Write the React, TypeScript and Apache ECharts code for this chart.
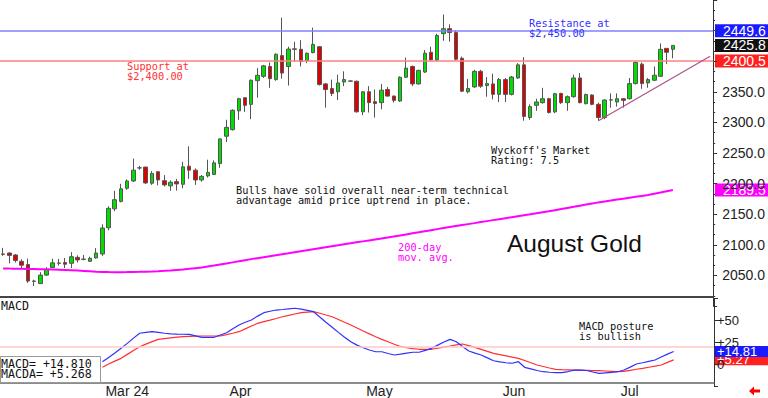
import React, { useEffect, useRef } from "react";
import * as echarts from "echarts";

// ---------- data ----------
const START_DATE = "2024-02-07";
const HOLIDAYS = ["2024-02-19", "2024-03-29", "2024-05-27", "2024-06-19", "2024-07-04"];
const TOTAL_SLOTS = 115; // trading days on the axis (incl. empty future slots)

const tickDates = ["2024-03-01", "2024-04-01", "2024-05-01", "2024-06-03", "2024-07-01"];
const tickLabels = ["Mar 24", "Apr", "May", "Jun", "Jul"];

// [open, high, low, close]
const ohlc: number[][] = [
  [2085, 2095, 2082, 2084.5], [2086.6, 2087.6, 2069.8, 2082.7], [2083.4, 2085, 2071, 2074.2], [2073, 2076.3, 2060.8, 2066.6],
  [2067.7, 2077.4, 2037.6, 2040.8], [2040.8, 2043, 2032.7, 2040.3], [2036.6, 2055.3, 2036, 2050.5], [2050.5, 2063.4, 2048.9, 2059.7],
  [2062.9, 2077.4, 2062.4, 2070.5], [2070.2, 2077, 2066, 2069.8], [2071, 2078.5, 2062, 2068.3], [2069.8, 2088, 2062, 2080.6],
  [2079.5, 2082.7, 2071, 2075.3], [2076.6, 2083.4, 2074.7, 2076.3], [2073, 2080.6, 2072, 2077.9], [2078.5, 2094.6, 2077.4, 2086.6],
  [2085, 2133.4, 2082, 2127.4], [2127.9, 2162.9, 2123.7, 2159.6], [2158.8, 2188.2, 2154.8, 2173.7], [2170.9, 2199.5, 2169.3, 2191.4],
  [2192.4, 2206.9, 2189.8, 2204.3], [2204.3, 2240.8, 2202.7, 2222], [2225.5, 2229, 2222.6, 2225.8], [2227, 2227.5, 2199.5, 2201.1],
  [2200.6, 2220.4, 2197.9, 2216.6], [2219.4, 2219.8, 2197.3, 2206], [2204.8, 2214, 2195.2, 2197.9], [2196.3, 2205.3, 2188.2, 2202.1],
  [2203.2, 2207.6, 2188.7, 2199.5], [2198.9, 2235.5, 2192.4, 2227.4], [2228.5, 2261, 2207.6, 2222], [2222, 2224.7, 2197.9, 2206],
  [2206, 2214, 2203.2, 2211.8], [2212.6, 2239, 2210, 2218.3], [2215, 2238, 2214, 2233.9], [2232.7, 2274, 2225.8, 2273],
  [2277.4, 2304.3, 2267.7, 2291.9], [2288.2, 2321.5, 2286.6, 2319.8], [2318.9, 2340.3, 2304.3, 2338.7], [2340.3, 2341, 2317.3, 2327.9],
  [2329.5, 2369.9, 2305.3, 2368.9], [2368.2, 2388.7, 2340.3, 2377], [2375.3, 2394, 2372.6, 2392.4], [2391.4, 2397.9, 2356.5, 2371.5],
  [2369.9, 2412.9, 2368, 2411.3], [2409.2, 2471, 2371.5, 2380.6], [2391.4, 2423.7, 2360.2, 2419.8], [2419.4, 2431.8, 2399.5, 2420.2],
  [2419.4, 2434.4, 2391.4, 2399.5], [2401.1, 2414, 2396.8, 2413], [2414, 2454.8, 2412.9, 2427.4], [2423.7, 2424.5, 2360.2, 2361.8],
  [2362.9, 2364.5, 2324.2, 2353.7], [2355.3, 2369.9, 2343, 2347.3], [2350, 2378, 2336.6, 2364.5], [2366.1, 2383.4, 2359.2, 2369.9],
  [2367.8, 2368.5, 2366.5, 2367.3], [2367.3, 2368, 2316, 2317.3], [2317.3, 2351, 2311.8, 2350], [2350, 2359.2, 2316.1, 2332.3],
  [2333.9, 2353.8, 2308, 2331], [2332.3, 2362.9, 2321.5, 2352.7], [2353.8, 2358, 2341.9, 2343], [2343, 2344, 2332.3, 2336],
  [2335, 2375.3, 2333.4, 2373.7], [2373.7, 2406, 2372.6, 2388.7], [2391.4, 2393, 2359.2, 2362.9], [2362.9, 2386, 2361.8, 2385],
  [2382.3, 2418.2, 2380.6, 2413], [2414.5, 2423.7, 2401.1, 2402.1], [2402.1, 2445, 2399.5, 2442], [2445, 2476.3, 2433.4, 2453.2],
  [2453.2, 2460.2, 2431.8, 2446.8], [2446.8, 2450.5, 2401.1, 2403.2], [2404.8, 2407.6, 2349.5, 2351], [2350, 2371, 2347.3, 2355.3],
  [2358, 2386, 2356.5, 2383.4], [2383.4, 2386, 2356.5, 2359.2], [2360.2, 2374.2, 2341.9, 2363.4], [2362.9, 2379.5, 2337.6, 2345.8],
  [2345.8, 2372.6, 2333.4, 2369.9], [2369.9, 2372.6, 2333.4, 2345.8], [2345.8, 2376, 2344, 2374.2], [2372.6, 2396.8, 2371, 2394],
  [2394, 2406.5, 2302.7, 2309.7], [2308, 2329.5, 2304.3, 2325.8], [2327.9, 2338.7, 2318.9, 2333.4], [2332.3, 2356.5, 2330.6, 2338.7],
  [2338.7, 2340.3, 2314.5, 2316.1], [2317.3, 2348.4, 2315, 2346.8], [2347.3, 2348.4, 2330, 2332.3], [2332.3, 2344, 2318.9, 2342],
  [2342, 2378, 2340.3, 2372.6], [2372.6, 2380.6, 2331, 2332.3], [2330.6, 2347, 2329.5, 2345.6], [2344.7, 2346, 2327.9, 2329.5],
  [2329.5, 2332.3, 2302.7, 2308], [2308, 2337.6, 2305.3, 2336.6], [2336.9, 2347.3, 2324.2, 2336.6], [2333.4, 2347.3, 2325.8, 2338.7],
  [2338.7, 2339.5, 2324.2, 2336], [2338.7, 2372.6, 2337.6, 2363.4], [2363.4, 2399.5, 2362, 2397.9], [2395.2, 2397.9, 2354.8, 2363.4],
  [2364.5, 2372.6, 2356.5, 2369.9], [2368.9, 2391.4, 2367.3, 2377], [2375.3, 2429, 2374.2, 2419.4], [2421, 2421.5, 2395.6, 2414.5],
  [2419.4, 2426.5, 2404.8, 2425.8],
];

const ma200: number[] = [
  2061.3, 2061.1, 2061, 2060.8, 2060.6, 2060.4, 2060.2, 2060, 2059.7, 2059.3, 2058.9, 2058.4, 2057.9, 2057.3, 2056.7, 2056.1,
  2055.6, 2055.4, 2055.3, 2055.3, 2055.4, 2055.6, 2055.8, 2056.1, 2056.4, 2056.9, 2057.5, 2058.2, 2059, 2059.8, 2060.7, 2061.8,
  2062.9, 2064.5, 2066.1, 2067.8, 2069.5, 2071.3, 2073, 2074.8, 2076.6, 2078.2, 2079.8, 2081.4, 2083, 2084.6, 2086.2, 2087.9,
  2089.5, 2091.1, 2092.7, 2094.3, 2095.9, 2097.5, 2099.1, 2100.8, 2102.4, 2104, 2105.6, 2107.2, 2108.8, 2110.4, 2112, 2113.7,
  2115.3, 2117, 2118.7, 2120.4, 2122.2, 2123.9, 2125.6, 2127.3, 2129, 2130.6, 2132.2, 2133.8, 2135.4, 2137.1, 2138.7, 2140.3,
  2141.9, 2143.5, 2145.1, 2146.7, 2148.3, 2149.9, 2151.6, 2153.2, 2154.8, 2156.6, 2158.4, 2160.2, 2162, 2163.9, 2165.7, 2167.5,
  2169.3, 2170.8, 2172.3, 2173.9, 2175.4, 2176.9, 2178.4, 2179.9, 2181.4, 2183.4, 2185.4, 2187.5, 2189.5,
];

const MACD_START = 16;
const macd: number[] = [
  3, 8, 13, 18.4, 24, 30, 35.5, 36.5, 37.3, 36.5, 35.5, 34.7, 34.5, 34.4, 34.3, 32.5,
  30.9, 30.8, 30.9, 33.5, 36.1, 40.5, 44.9, 48, 50.6, 55, 58.9, 60.5, 61.9, 62.5, 63.2, 63.9,
  63, 61.5, 60, 54, 48, 42.3, 36.5, 31, 25.9, 22, 19, 16.5, 14.5, 14.5, 12.5, 10.8,
  11.8, 13, 13.9, 13.9, 16, 18.4, 22, 25.5, 28.6, 25.9, 20.5, 15.3, 13, 10.8, 7.5, 4.3,
  3, 2, 1.4, 3.2, -3.2, -5, -6.8, -8.2, -8.8, -9.2, -9.3, -8, -6.3, -6.5, -6.8, -8.5,
  -10, -9.5, -9, -8.2, -6.3, -3, 0.6, 2, 3.6, 5.1, 8.5, 11.8, 14.81,
];
const macdAvg: number[] = [
  -3.2, 0.5, 3.8, 7, 11.5, 16, 20.2, 23.2, 26, 28.6, 29.5, 30.3, 31, 31.6, 31.9, 32.2,
  32.4, 32.4, 32.4, 32.4, 33.9, 35.5, 37.3, 40.5, 43.7, 46.8, 48.8, 50.5, 52.3, 54.3, 55.8, 57.4,
  58.9, 59.5, 60, 58.2, 56.2, 54.3, 51.2, 48, 44.9, 41.5, 38, 34.8, 31.6, 28.5, 25.9, 23,
  20.5, 19, 18, 17.3, 17.3, 17.3, 18.5, 19.8, 21, 22.3, 23.3, 21.5, 19.5, 17.2, 14.9, 12.7,
  11.2, 9.8, 8.3, 7, 4.5, 2, -0.6, -2.3, -4, -5.5, -5.8, -6, -6.3, -6.5, -6.7, -6.9,
  -7, -7.4, -7.8, -8.2, -7.8, -6.6, -5.4, -4.3, -3.1, -1.9, -0.6, 2.4, 5.268,
];

const SUPPORT = 2400.5;
const RESISTANCE = 2449.6;
const MACD_REF = 20;
const TREND_START = { idx: 96, value: 2302.7 };
const TREND_END = { idx: 114, value: 2408 };

// ---------- helpers ----------
function buildTradingDays(start: string, count: number, holidays: string[]): string[] {
  const out: string[] = [];
  const d = new Date(start + "T00:00:00Z");
  while (out.length < count) {
    const s = d.toISOString().slice(0, 10);
    const wd = d.getUTCDay();
    if (wd !== 0 && wd !== 6 && holidays.indexOf(s) < 0) out.push(s);
    d.setUTCDate(d.getUTCDate() + 1);
  }
  return out;
}

const MONO = '"DejaVu Sans Mono", "Liberation Mono", monospace';
const SANS = '"Liberation Sans", Arial, sans-serif';

export default function App() {
  const ref = useRef<HTMLDivElement>(null);

  useEffect(() => {
    document.body.style.margin = "0";
    if (!ref.current) return;
    const chart = echarts.init(ref.current, undefined, { renderer: "svg" });

    const dates = buildTradingDays(START_DATE, TOTAL_SLOTS, HOLIDAYS);
    const labelMap: Record<string, string> = {};
    tickDates.forEach((d, i) => (labelMap[d] = tickLabels[i]));
    const isTick = (_i: number, v: string) => labelMap[v] !== undefined;

    const candleData = ohlc.map((r) => [r[0], r[3], r[2], r[1]]);
    const pad = (arr: number[], start: number) => {
      const out: (number | null)[] = [];
      for (let i = 0; i < start; i++) out.push(null);
      return out.concat(arr);
    };

    const fmtPrice = (v: number) => {
      if (v <= 2000 || v >= 2400) return "";
      return v.toFixed(1);
    };
    const fmtMacd = (v: number) => {
      if (v === 50) return "+50";
      if (v === 25) return "+25";
      if (v === 0) return "0";
      return "";
    };

    chart.setOption({
      animation: false,
      backgroundColor: "#ffffff",
      grid: [
        { left: 0, right: 54, top: -4, height: 310 },
        { left: 0, right: 54, top: 298.5, height: 88 },
        { left: 0, right: 54, top: 382, height: 1 },
      ],
      xAxis: [
        { type: "category", gridIndex: 0, data: dates, boundaryGap: true, show: false },
        { type: "category", gridIndex: 1, data: dates, boundaryGap: true, show: false },
        {
          type: "category",
          gridIndex: 2,
          data: dates,
          boundaryGap: true,
          axisLine: { lineStyle: { color: "#666", width: 1.5 } },
          axisTick: { alignWithLabel: true, interval: isTick, length: 14, lineStyle: { color: "#888" } },
          axisLabel: {
            interval: isTick,
            formatter: (v: string) => labelMap[v] || "",
            align: "left",
            padding: [0, 0, 0, 3],
            margin: 1,
            fontSize: 14,
            fontFamily: SANS,
            color: "#222",
          },
        },
      ],
      yAxis: [
        {
          type: "value",
          gridIndex: 0,
          position: "right",
          min: 2000,
          max: 2500,
          interval: 50,
          splitLine: { show: false },
          axisLine: { show: true, lineStyle: { color: "#333" } },
          axisTick: { show: true, length: 4, lineStyle: { color: "#333" } },
          minorTick: { show: true, splitNumber: 3, length: 2, lineStyle: { color: "#333" } },
          axisLabel: { margin: 9, fontSize: 14, fontFamily: SANS, color: "#222", formatter: fmtPrice },
        },
        {
          type: "value",
          gridIndex: 1,
          position: "right",
          min: -25,
          max: 75,
          interval: 25,
          splitLine: { show: false },
          axisLine: { show: true, lineStyle: { color: "#333" } },
          axisTick: { show: true, length: 4, lineStyle: { color: "#333" } },
          axisLabel: { margin: 3, fontSize: 13, fontFamily: SANS, color: "#222", formatter: fmtMacd },
        },
        { type: "value", gridIndex: 2, show: false, min: 0, max: 1 },
      ],
      series: [
        {
          type: "candlestick",
          xAxisIndex: 0,
          yAxisIndex: 0,
          data: candleData,
          barWidth: 4,
          silent: true,
          itemStyle: {
            color: "#00dd00",
            color0: "#e00000",
            borderColor: "#555",
            borderColor0: "#555",
            borderWidth: 1,
          },
          markLine: {
            silent: true,
            symbol: "none",
            label: { show: false },
            data: [
              { yAxis: RESISTANCE, lineStyle: { color: "#8080ff", width: 1.5, type: "solid" } },
              { yAxis: SUPPORT, lineStyle: { color: "#ff8080", width: 1.5, type: "solid" } },
              [
                { coord: [TREND_START.idx, TREND_START.value], lineStyle: { color: "#b0508a", width: 1.2, type: "solid" } },
                { coord: [TREND_END.idx, TREND_END.value] },
              ],
            ],
          },
        },
        {
          type: "line",
          xAxisIndex: 0,
          yAxisIndex: 0,
          data: ma200,
          symbol: "none",
          silent: true,
          lineStyle: { color: "#ff00ff", width: 2 },
        },
        {
          type: "line",
          xAxisIndex: 1,
          yAxisIndex: 1,
          data: pad(macdAvg, MACD_START),
          symbol: "none",
          silent: true,
          lineStyle: { color: "#ff3030", width: 1.2 },
          markLine: {
            silent: true,
            symbol: "none",
            label: { show: false },
            data: [{ yAxis: MACD_REF, lineStyle: { color: "#ffc8c8", width: 1.5, type: "solid" } }],
          },
        },
        {
          type: "line",
          xAxisIndex: 1,
          yAxisIndex: 1,
          data: pad(macd, MACD_START),
          symbol: "none",
          silent: true,
          lineStyle: { color: "#3030ff", width: 1.2 },
        },
      ],
    });

    const py = (v: number) => chart.convertToPixel({ yAxisIndex: 0 }, v) as number;
    const my = (v: number) => chart.convertToPixel({ yAxisIndex: 1 }, v) as number;
    const lastClose = ohlc[ohlc.length - 1][3];
    const lastMA = ma200[ma200.length - 1];
    const lastMacd = macd[macd.length - 1];
    const lastAvg = macdAvg[macdAvg.length - 1];

    const priceBox = (v: number, txt: string, bg: string) => ({
      type: "group",
      z: 100,
      children: [
        { type: "rect", shape: { x: 715, y: py(v) - 6.5, width: 53, height: 13 }, style: { fill: bg } },
        {
          type: "text",
          x: 723,
          y: py(v),
          style: { text: txt, fill: "#fff", font: `14px ${SANS}`, verticalAlign: "middle", align: "left" },
        },
      ],
    });
    const macdBox = (v: number, txt: string, bg: string) => ({
      type: "group",
      z: 100,
      children: [
        { type: "rect", shape: { x: 715, y: my(v) - 5.5, width: 53, height: 11 }, style: { fill: bg } },
        {
          type: "text",
          x: 717,
          y: my(v),
          style: { text: txt, fill: "#fff", font: `13px ${SANS}`, verticalAlign: "middle", align: "left" },
        },
      ],
    });
    const t = (x: number, y: number, text: string, fill: string, font = `10.3px ${MONO}`) => ({
      type: "text",
      z: 50,
      x,
      y,
      style: { text, fill, font, verticalAlign: "top", align: "left" },
    });
    const sign = (v: number) => (v >= 0 ? "+" : "");

    chart.setOption({
      graphic: [
        { type: "line", z: 60, shape: { x1: 0, y1: 297, x2: 714, y2: 297 }, style: { stroke: "#444", lineWidth: 2 } },
        priceBox(lastMA, lastMA.toFixed(1), "#ff00ff"),
        priceBox(SUPPORT, SUPPORT.toFixed(1), "#ff2020"),
        priceBox(lastClose, lastClose.toFixed(1), "#111111"),
        priceBox(RESISTANCE, RESISTANCE.toFixed(1), "#1a1aff"),
        macdBox(lastAvg, sign(lastAvg) + lastAvg.toFixed(2), "#ff2020"),
        macdBox(lastMacd, sign(lastMacd) + lastMacd.toFixed(2), "#1a1aff"),
        t(127, 61, "Support at", "#ff3333"),
        t(127, 71, "$2,400.00", "#ff3333"),
        t(529, 17.5, "Resistance at", "#3333ff"),
        t(529, 27.5, "$2,450.00", "#3333ff"),
        t(491, 144.5, "Wyckoff's Market", "#111"),
        t(491, 154.5, "Rating: 7.5", "#111"),
        t(236, 185, "Bulls have solid overall near-term technical", "#111"),
        t(236, 195, "advantage amid price uptrend in place.", "#111"),
        t(398, 241.5, "200-day", "#ff00ff"),
        t(398, 251.5, "mov. avg.", "#ff00ff"),
        t(507, 230.5, "August Gold", "#111", `24.5px ${SANS}`),
        t(1, 300, "MACD", "#111", `11.6px ${MONO}`),
        t(579, 320.5, "MACD posture", "#111"),
        t(579, 330.5, "is bullish", "#111"),
        {
          type: "rect",
          z: 70,
          shape: { x: 0.5, y: 356.5, width: 100, height: 26 },
          style: { fill: "#fff", stroke: "#999", lineWidth: 1 },
        },
        { ...t(1, 357.5, "MACD= " + sign(lastMacd) + lastMacd.toFixed(3), "#111", `11.6px ${MONO}`), z: 80 },
        { ...t(1, 368, "MACDA= " + sign(lastAvg) + lastAvg.toFixed(3), "#111", `11.6px ${MONO}`), z: 80 },
        {
          type: "polygon",
          z: 80,
          shape: { points: [[749, 391], [754, 386.5], [754, 389.5], [760, 389.5], [760, 392.5], [754, 392.5], [754, 395.5]] },
          style: { fill: "#ff0000" },
        },
      ],
    });

    return () => chart.dispose();
  }, []);

  return <div ref={ref} style={{ position: "fixed", left: 0, top: 0, width: 768, height: 398 }} />;
}
